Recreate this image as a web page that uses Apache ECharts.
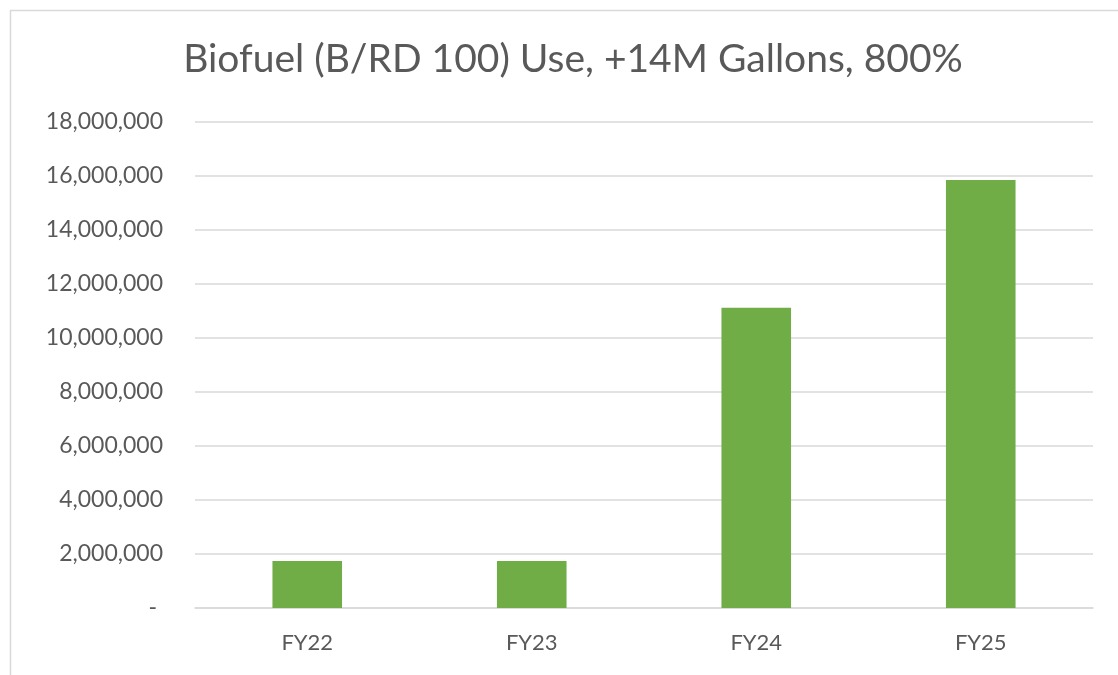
<!DOCTYPE html>
<html><head><meta charset="utf-8">
<script src="https://cdn.jsdelivr.net/npm/echarts@6/dist/echarts.min.js"></script>
<style>html,body{margin:0;padding:0;background:#fff}#c{width:1118px;height:675px}</style>
</head><body><div id="c"></div>
<script>
const categories = ['FY22', 'FY23', 'FY24', 'FY25'];
const biofuelUse = [1740000, 1740000, 11120000, 15850000];
const titleText = 'Biofuel (B/RD 100) Use, +14M Gallons, 800%';

const chart = echarts.init(document.getElementById('c'));
chart.setOption({
  animation: false,
  backgroundColor: '#fff',
  graphic: [{
    type: 'rect', left: 8, top: 8, silent: true,
    shape: { width: 1200, height: 800 },
    style: { fill: 'none', stroke: '#d9d9d9', lineWidth: 1.5 }
  }],
  title: {
    text: titleText, left: 568, textAlign: 'center', top: 35,
    textStyle: { fontFamily: 'Lato', fontSize: 39, fontWeight: 'normal', color: '#595959' }
  },
  grid: { left: 195, right: 25, top: 122, bottom: 67 },
  xAxis: {
    type: 'category', data: categories,
    axisLine: { show: true, lineStyle: { color: '#d9d9d9', width: 1.5 } },
    axisTick: { show: false },
    axisLabel: { color: '#595959', fontFamily: 'Lato', fontSize: 22, margin: 24 }
  },
  yAxis: {
    type: 'value', min: 0, max: 18000000, interval: 2000000,
    axisLine: { show: false }, axisTick: { show: false },
    splitLine: { lineStyle: { color: '#d9d9d9', width: 1.5 } },
    axisLabel: {
      color: '#595959', fontFamily: 'Lato', fontSize: 23, margin: 32,
      formatter: v => v === 0 ? '- ' : v.toLocaleString('en-US')
    }
  },
  series: [{
    type: 'bar', data: biofuelUse, barWidth: '31%',
    itemStyle: { color: '#70ad47' }
  }]
});
</script></body></html>
